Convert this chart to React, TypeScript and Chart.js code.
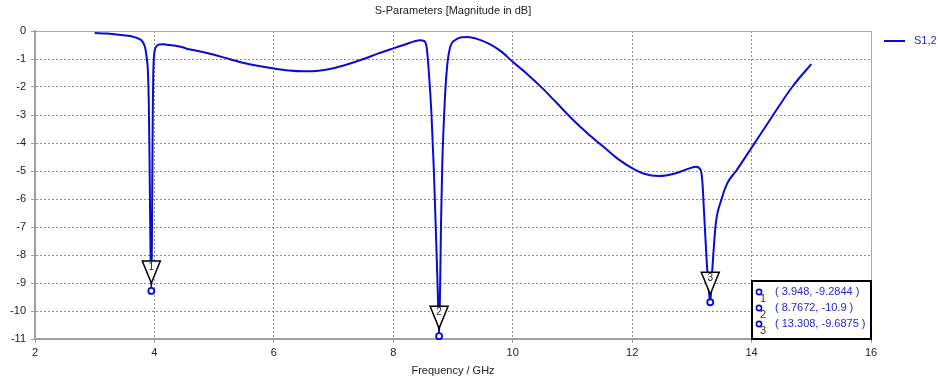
import React, { useEffect, useRef } from "react";
import { Chart, registerables } from "chart.js";

Chart.register(...registerables);

const chartTitle = "S-Parameters [Magnitude in dB]";
const xAxisTitle = "Frequency / GHz";
const seriesName = "S1,2";

const freq = [
  3.0, 3.2, 3.4, 3.55, 3.65, 3.72, 3.78, 3.82, 3.85, 3.87, 3.89, 3.905, 3.915, 3.925, 3.935, 3.948,
  3.958, 3.965, 3.972, 3.98, 3.99, 4.0, 4.03, 4.08, 4.15, 4.25, 4.35, 4.5, 4.55, 4.6, 4.75, 5.0,
  5.25, 5.5, 5.75, 6.0, 6.25, 6.5, 6.75, 7.0, 7.25, 7.5, 7.75, 8.0, 8.2, 8.35, 8.45, 8.52, 8.56,
  8.6, 8.64, 8.68, 8.72, 8.745, 8.7672, 8.785, 8.8, 8.82, 8.86, 8.9, 8.95, 9.05, 9.15, 9.25, 9.4,
  9.6, 9.8, 10.0, 10.25, 10.5, 10.75, 11.0, 11.25, 11.5, 11.75, 12.0, 12.2, 12.45, 12.7, 12.9,
  13.07, 13.15, 13.18, 13.2, 13.23, 13.26, 13.308, 13.34, 13.4, 13.49, 13.59, 13.74, 13.96, 14.34, 14.68,
  15.0,
];
const s12 = [
  -0.07, -0.09, -0.13, -0.17, -0.21, -0.26, -0.33, -0.45, -0.65, -0.95, -1.4, -2.5, -4.0, -6.0, -8.0, -9.2844,
  -7.5, -5.0, -3.0, -1.6, -1.0, -0.75, -0.56, -0.48, -0.47, -0.5, -0.53, -0.6, -0.64, -0.66, -0.72, -0.85,
  -1.0, -1.14, -1.25, -1.34, -1.41, -1.44, -1.42, -1.33, -1.18, -1.0, -0.8, -0.62, -0.48, -0.37, -0.33, -0.36, -0.6,
  -1.6, -3.0, -5.0, -7.6, -9.3, -10.9, -9.0, -6.8, -4.8, -2.6, -1.3, -0.6, -0.3, -0.22, -0.21, -0.28,
  -0.45, -0.72, -1.1, -1.55, -2.05, -2.6, -3.15, -3.65, -4.1, -4.55, -4.9, -5.1, -5.18, -5.1, -4.95,
  -4.85, -4.98, -5.5, -6.3, -7.5, -8.6, -9.6875, -8.6, -6.9, -6.05, -5.45, -5.0, -4.3, -3.07, -2.0,
  -1.18,
];

const markerFreq = [3.948, 8.7672, 13.308];
const markerDb = [-9.2844, -10.9, -9.6875];
const markerIds = ["1", "2", "3"];
const markerTexts = ["( 3.948, -9.2844 )", "( 8.7672, -10.9 )", "( 13.308, -9.6875 )"];

const xMin = 2;
const xMax = 16;
const xStep = 2;
const yMin = -11;
const yMax = 0;
const yStep = 1;

const BLUE = "#0a0ad6";
const FONT = "'Liberation Sans', Arial, sans-serif";

const decorPlugin = {
  id: "decor",
  beforeDatasetsDraw(chart: any) {
    const { ctx, chartArea } = chart;
    const { left, right, top, bottom } = chartArea;
    ctx.save();
    ctx.strokeStyle = "#a8a8a8";
    ctx.lineWidth = 1;
    ctx.setLineDash([]);
    ctx.beginPath();
    ctx.moveTo(left, top + 0.5);
    ctx.lineTo(right + 0.5, top + 0.5);
    ctx.lineTo(right + 0.5, bottom);
    ctx.stroke();
    ctx.restore();
  },
  afterDraw(chart: any) {
    const { ctx, chartArea } = chart;
    const { left, right, bottom } = chartArea;
    const xs = chart.scales.x;
    const ys = chart.scales.y;
    ctx.save();
    ctx.setLineDash([]);

    for (let i = 0; i < markerFreq.length; i++) {
      const px = xs.getPixelForValue(markerFreq[i]);
      const py = ys.getPixelForValue(markerDb[i]);
      const apex = py - 8;
      ctx.beginPath();
      ctx.moveTo(px - 9, apex - 22);
      ctx.lineTo(px + 9, apex - 22);
      ctx.lineTo(px, apex);
      ctx.closePath();
      ctx.fillStyle = "#ffffff";
      ctx.fill();
      ctx.strokeStyle = "#000000";
      ctx.lineWidth = 1.5;
      ctx.stroke();
      ctx.fillStyle = "#222";
      ctx.font = `10px ${FONT}`;
      ctx.textAlign = "center";
      ctx.textBaseline = "middle";
      ctx.fillText(markerIds[i], px, apex - 16);
    }

    const bw = 119;
    const bh = 58;
    const bx = right - bw;
    const by = bottom - bh;
    ctx.fillStyle = "#ffffff";
    ctx.fillRect(bx, by, bw, bh);
    ctx.strokeStyle = "#000";
    ctx.lineWidth = 2;
    ctx.strokeRect(bx, by, bw, bh);
    for (let i = 0; i < markerTexts.length; i++) {
      const ry = by + 11 + i * 16;
      ctx.beginPath();
      ctx.arc(bx + 7, ry, 2.6, 0, Math.PI * 2);
      ctx.strokeStyle = BLUE;
      ctx.lineWidth = 1.6;
      ctx.stroke();
      ctx.fillStyle = "#333";
      ctx.font = `11px ${FONT}`;
      ctx.textAlign = "center";
      ctx.textBaseline = "middle";
      ctx.fillText(markerIds[i], bx + 11, ry + 7);
      ctx.fillStyle = "#2626d0";
      ctx.font = `11px ${FONT}`;
      ctx.textAlign = "left";
      ctx.fillText(markerTexts[i], bx + 23, ry);
    }

    const cx = (left + right) / 2;
    ctx.fillStyle = "#222";
    ctx.font = `11px ${FONT}`;
    ctx.textAlign = "center";
    ctx.textBaseline = "middle";
    ctx.fillText(chartTitle, cx, 11);
    ctx.fillText(xAxisTitle, cx, 371);

    ctx.strokeStyle = BLUE;
    ctx.lineWidth = 2;
    ctx.beginPath();
    ctx.moveTo(right + 13, 41);
    ctx.lineTo(right + 34, 41);
    ctx.stroke();
    ctx.fillStyle = "#2626d0";
    ctx.textAlign = "left";
    ctx.fillText(seriesName, right + 43, 41);
    ctx.restore();
  },
};

export default function App() {
  const ref = useRef<HTMLCanvasElement>(null);

  useEffect(() => {
    document.body.style.margin = "0";
    const canvas = ref.current;
    if (!canvas) return;
    const lineData = freq.map((f, i) => ({ x: f, y: s12[i] }));
    const markerData = markerFreq.map((f, i) => ({ x: f, y: markerDb[i] }));
    const chart = new Chart(canvas, {
      type: "line",
      data: {
        datasets: [
          {
            label: "markers",
            data: markerData,
            showLine: false,
            pointRadius: 3,
            pointBorderWidth: 1.8,
            pointBorderColor: BLUE,
            pointBackgroundColor: "#ffffff",
            clip: false as any,
            order: 0,
          },
          {
            label: seriesName,
            data: lineData,
            borderColor: BLUE,
            borderWidth: 2,
            pointRadius: 0,
            cubicInterpolationMode: "monotone",
            fill: false,
            order: 1,
          },
        ],
      },
      options: {
        responsive: false,
        animation: false,
        devicePixelRatio: 1,
        layout: { padding: { top: 31, right: 67, left: 0, bottom: 0 } },
        plugins: {
          legend: { display: false },
          title: { display: false },
          tooltip: { enabled: false },
        },
        scales: {
          x: {
            type: "linear",
            min: xMin,
            max: xMax,
            afterFit: (s: any) => {
              s.height = 41;
            },
            ticks: {
              stepSize: xStep,
              color: "#222",
              font: { family: FONT, size: 11 },
              padding: 3,
              maxRotation: 0,
            },
            grid: {
              color: "#8c8c8c",
              lineWidth: 1,
              tickBorderDash: [],
              tickColor: "#a0a0a0",
              tickLength: 4,
              tickWidth: 1,
            } as any,
            border: { display: true, color: "#a0a0a0", width: 2, dash: [2, 2] } as any,
          },
          y: {
            type: "linear",
            min: yMin,
            max: yMax,
            afterFit: (s: any) => {
              s.width = 35;
            },
            ticks: {
              stepSize: yStep,
              color: "#222",
              font: { family: FONT, size: 11 },
              padding: 5,
            },
            grid: {
              color: "#8c8c8c",
              lineWidth: 1,
              tickBorderDash: [],
              tickColor: "#a0a0a0",
              tickLength: 4,
              tickWidth: 1,
            } as any,
            border: { display: true, color: "#a0a0a0", width: 2, dash: [2, 2] } as any,
          },
        },
      },
      plugins: [decorPlugin],
    });
    return () => chart.destroy();
  }, []);

  return (
    <div style={{ width: 938, height: 380 }}>
      <canvas ref={ref} width={938} height={380} style={{ display: "block" }} />
    </div>
  );
}
